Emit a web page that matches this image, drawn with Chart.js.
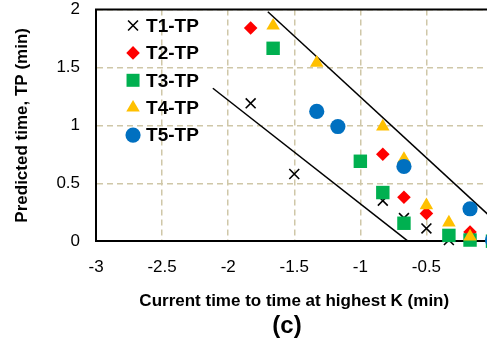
<!DOCTYPE html>
<html>
<head>
<meta charset="utf-8">
<script src="https://cdn.jsdelivr.net/npm/chart.js@4/dist/chart.umd.min.js"></script>
<style>
html,body{margin:0;padding:0;background:#fff;overflow:hidden;}
#wrap{position:absolute;left:0;top:0;width:487px;height:348px;overflow:hidden;}
canvas{display:block;}
</style>
</head>
<body>
<div id="wrap"><canvas id="c" width="502" height="348"></canvas></div>
<script>
// ---- data ----
const seriesNames = ["T1-TP", "T2-TP", "T3-TP", "T4-TP", "T5-TP"];
const t1X = [-1.83, -1.5, -0.83, -0.67, -0.5, -0.33];
const t1Y = [1.19, 0.58, 0.35, 0.2, 0.11, 0.01];
const t2X = [-1.83, -0.83, -0.67, -0.5, -0.17];
const t2Y = [1.84, 0.75, 0.38, 0.24, 0.08];
const t3X = [-1.66, -1.0, -0.83, -0.67, -0.33, -0.17, 0];
const t3Y = [1.665, 0.69, 0.42, 0.155, 0.05, 0.01, 0];
const t4X = [-1.66, -1.33, -0.83, -0.67, -0.5, -0.33, -0.17];
const t4Y = [1.86, 1.54, 0.99, 0.71, 0.31, 0.16, 0.04];
const t5X = [-1.33, -1.17, -0.67, -0.17, 0];
const t5Y = [1.12, 0.99, 0.645, 0.28, 0.01];
// boundary lines (end points)
const upperLineX = [-1.70, 0];
const upperLineY = [1.98, 0.195];
const lowerLineX = [-2.116, -0.64];
const lowerLineY = [1.32, 0];
// axes
const xTickMin = -3, xTickMax = 0, xStep = 0.5;
const yTickMin = 0, yTickMax = 2, yStep = 0.5;
const xTitle = "Current time to time at highest K (min)";
const yTitle = "Predicted time, TP (min)";
const panelLabel = "(c)";

const pts = (xs, ys) => xs.map((x, i) => ({x: x, y: ys[i]}));
const FONT = 'Arial, "Liberation Sans", sans-serif';

const styles = [
  {pointStyle: 'crossRot', radius: 7, bg: '#000', border: '#000', bw: 1.6},
  {pointStyle: 'rectRot', radius: 6.8, bg: '#ff0000', border: '#ff0000', bw: 0},
  {pointStyle: 'rect', radius: 9.5, bg: '#00b050', border: '#00b050', bw: 0},
  {pointStyle: 'triangle', radius: 7.8, bg: '#ffc000', border: '#ffc000', bw: 0},
  {pointStyle: 'circle', radius: 7.6, bg: '#0070c0', border: '#0070c0', bw: 0}
];
const seriesData = [pts(t1X,t1Y), pts(t2X,t2Y), pts(t3X,t3Y), pts(t4X,t4Y), pts(t5X,t5Y)];

const datasets = seriesData.map((d, i) => ({
  type: 'scatter',
  label: seriesNames[i],
  data: d,
  pointStyle: styles[i].pointStyle,
  pointRadius: styles[i].radius,
  pointHoverRadius: styles[i].radius,
  backgroundColor: styles[i].bg,
  borderColor: styles[i].border,
  borderWidth: styles[i].bw,
  order: 4 - i,
  clip: false
}));
datasets.push({
  type: 'line', label: 'upper', data: pts(upperLineX, upperLineY),
  borderColor: '#000', borderWidth: 1.5, pointRadius: 0, fill: false, order: 10
});
datasets.push({
  type: 'line', label: 'lower', data: pts(lowerLineX, lowerLineY),
  borderColor: '#000', borderWidth: 1.5, pointRadius: 0, fill: false, order: 10
});

function drawMarker(ctx, st, x, y) {
  const r = st.radius;
  ctx.save();
  ctx.fillStyle = st.bg; ctx.strokeStyle = st.border; ctx.lineWidth = st.bw || 1;
  ctx.beginPath();
  if (st.pointStyle === 'crossRot') {
    const o = Math.cos(Math.PI/4) * r;
    ctx.moveTo(x-o, y-o); ctx.lineTo(x+o, y+o);
    ctx.moveTo(x-o, y+o); ctx.lineTo(x+o, y-o);
    ctx.stroke();
  } else if (st.pointStyle === 'rectRot') {
    ctx.moveTo(x, y-r); ctx.lineTo(x+r, y); ctx.lineTo(x, y+r); ctx.lineTo(x-r, y); ctx.closePath(); ctx.fill();
  } else if (st.pointStyle === 'rect') {
    const s = Math.SQRT1_2 * r; ctx.rect(x-s, y-s, 2*s, 2*s); ctx.fill();
  } else if (st.pointStyle === 'triangle') {
    ctx.moveTo(x, y - r);
    ctx.lineTo(x + Math.cos(Math.PI/6)*r, y + Math.sin(Math.PI/6)*r);
    ctx.lineTo(x - Math.cos(Math.PI/6)*r, y + Math.sin(Math.PI/6)*r);
    ctx.closePath(); ctx.fill();
  } else {
    ctx.arc(x, y, r, 0, Math.PI*2); ctx.fill();
  }
  ctx.restore();
}

const decor = {
  id: 'decor',
  afterDraw(chart) {
    const ctx = chart.ctx, a = chart.chartArea;
    ctx.save();
    // top frame line
    ctx.strokeStyle = '#000'; ctx.lineWidth = 2;
    ctx.beginPath(); ctx.moveTo(a.left - 1, a.top); ctx.lineTo(a.right + 1, a.top); ctx.stroke();
    // legend
    ctx.font = 'bold 19px ' + FONT;
    ctx.textBaseline = 'middle'; ctx.textAlign = 'left';
    for (let i = 0; i < seriesNames.length; i++) {
      const y = a.top + 16 + i * 27.4;
      const st = Object.assign({}, styles[i]);
      if (st.pointStyle === 'rect') st.radius = 9.2;
      drawMarker(ctx, st, a.left + 37, y);
      ctx.fillStyle = '#000';
      ctx.fillText(seriesNames[i], a.left + 50, y + 1);
    }
    // panel label
    ctx.font = 'bold 24px ' + FONT;
    ctx.textAlign = 'center';
    ctx.fillStyle = '#000';
    ctx.fillText(panelLabel, 287, 326);
    ctx.restore();
  }
};

const gridStyle = {color: '#cfc7a8', lineWidth: 1.5, drawTicks: true, tickLength: 16, tickColor: 'rgba(0,0,0,0)'};

new Chart(document.getElementById('c'), {
  data: {datasets: datasets},
  options: {
    responsive: false,
    devicePixelRatio: 1,
    animation: false,
    events: [],
    layout: {padding: {left: 12, right: 2, top: 0, bottom: 36}},
    plugins: {legend: {display: false}, tooltip: {enabled: false}},
    scales: {
      x: {
        type: 'linear', min: xTickMin, max: xTickMax,
        ticks: {stepSize: xStep, padding: 0, color: '#000', font: {family: FONT, size: 17}, callback: v => String(v)},
        grid: gridStyle,
        border: {display: true, color: '#000', width: 2, dash: [6, 4]},
        title: {display: true, text: xTitle, color: '#000', font: {family: FONT, size: 17, weight: 'bold'}, padding: {top: 14, bottom: 0}}
      },
      y: {
        type: 'linear', min: yTickMin, max: yTickMax,
        ticks: {stepSize: yStep, padding: 0, color: '#000', font: {family: FONT, size: 17, lineHeight: 1.0}, callback: v => String(v)},
        grid: gridStyle,
        border: {display: true, color: '#000', width: 2, dash: [6, 4]},
        title: {display: true, text: yTitle, color: '#000', font: {family: FONT, size: 17, weight: 'bold'}, padding: {top: 0, bottom: 24}}
      }
    }
  },
  plugins: [decor]
});
</script>
</body>
</html>
